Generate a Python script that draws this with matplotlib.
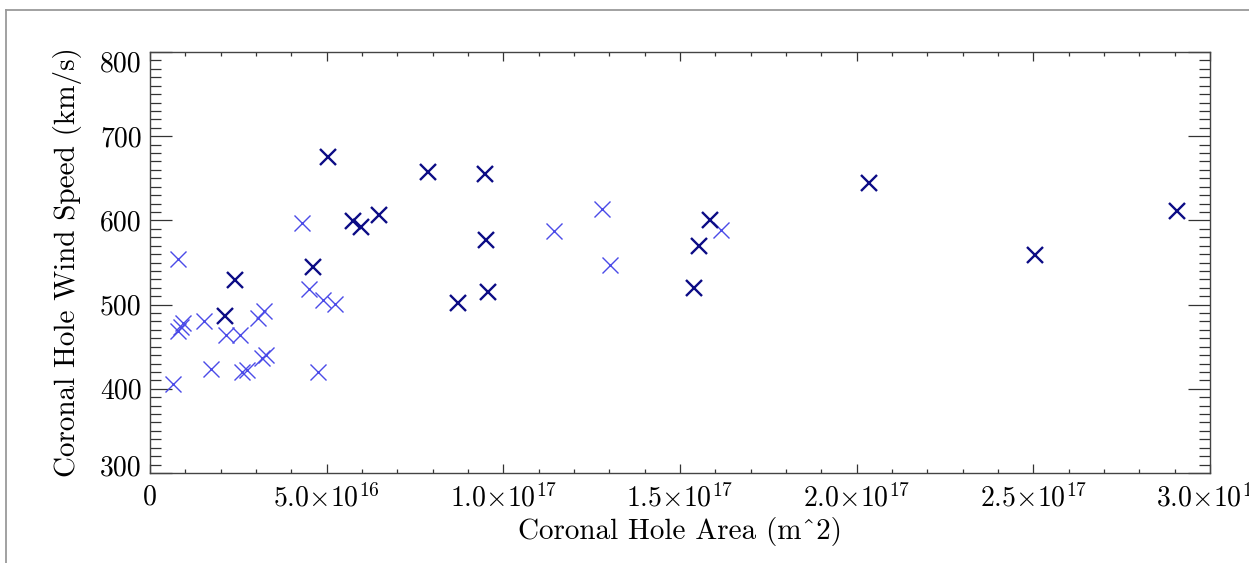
import matplotlib
matplotlib.use("Agg")
import matplotlib.pyplot as plt
from matplotlib.ticker import FixedLocator, MultipleLocator
from matplotlib.transforms import ScaledTranslation
from matplotlib.lines import Line2D

plt.rcParams['font.family'] = ['cmr10', 'DejaVu Serif']
plt.rcParams['mathtext.fontset'] = 'cm'
plt.rcParams['axes.formatter.use_mathtext'] = True

# coronal holes, area in m^2 and wind speed in km/s
area_dark = [2.12e16, 2.41e16, 4.61e16, 5.03e16, 5.75e16, 5.97e16, 6.49e16,
             7.86e16, 8.71e16, 9.47e16, 9.51e16, 9.58e16, 1.539e17, 1.554e17,
             1.585e17, 2.035e17, 2.505e17, 2.907e17]
speed_dark = [486, 529, 545, 675, 599, 592, 606,
              658, 502, 655, 577, 515, 520, 570,
              600, 644, 559, 611]

area_light = [0.66e16, 0.78e16, 0.80e16, 0.87e16, 0.94e16, 1.54e16, 1.73e16,
              2.15e16, 2.55e16, 2.60e16, 2.74e16, 3.07e16, 3.16e16, 3.23e16,
              3.28e16, 4.29e16, 4.51e16, 4.75e16, 4.89e16, 5.24e16,
              1.143e17, 1.278e17, 1.302e17, 1.616e17]
speed_light = [406, 469, 554, 473, 478, 480, 423,
               464, 464, 420, 422, 484, 436, 492,
               440, 597, 518, 420, 505, 501,
               587, 614, 547, 589]

xticks = [0, 5e16, 1e17, 1.5e17, 2e17, 2.5e17, 3e17]
xticklabels = ["0", r"$5.0{\times}10^{16}$", r"$1.0{\times}10^{17}$",
               r"$1.5{\times}10^{17}$", r"$2.0{\times}10^{17}$",
               r"$2.5{\times}10^{17}$", r"$3.0{\times}10^{17}$"]
yticks = [300, 400, 500, 600, 700, 800]

fig = plt.figure(figsize=(12.49, 5.63), dpi=100)
ax = fig.add_axes([150/1249, 1 - 473/563, 1060/1249, 421/563])

ax.plot(area_light, speed_light, ls='none', marker='x', ms=11, mew=1.0,
        color='#4b4be8')
ax.plot(area_dark, speed_dark, ls='none', marker='x', ms=11, mew=1.7,
        color='#0c0c85')

ax.set_xlim(0, 3e17)
ax.set_ylim(300, 800)
ax.xaxis.set_major_locator(FixedLocator(xticks))
ax.set_xticklabels(xticklabels)
ax.xaxis.set_minor_locator(MultipleLocator(1e16))
ax.yaxis.set_major_locator(FixedLocator(yticks))
ax.set_yticklabels([str(v) for v in yticks])
ax.yaxis.set_minor_locator(MultipleLocator(10))

for s in ax.spines.values():
    s.set_color('#444444')
    s.set_linewidth(1.0)

ax.tick_params(which='both', direction='in', top=True, right=True,
               color='#333333', width=0.9, labelsize=20)
ax.tick_params(axis='x', which='major', length=6.2, pad=8)
ax.tick_params(axis='x', which='minor', length=3.0)
ax.tick_params(axis='y', which='major', length=15.5, pad=6)
ax.tick_params(axis='y', which='minor', length=7.7)

ax.set_xlabel("Coronal Hole Area (m^2)", fontsize=21)
ax.set_ylabel("Coronal Hole Wind Speed (km/s)", fontsize=21)
ax.xaxis.set_label_coords(0.5, -0.138)
ax.xaxis.label.set_va('center')
ax.yaxis.set_label_coords(-0.078, 0.5)
ax.yaxis.label.set_va('center')

# IDL nudges the end labels inward
ymaj = ax.yaxis.get_major_ticks()
lo = ymaj[0].label1
lo.set_transform(lo.get_transform() + ScaledTranslation(0, 8/100, fig.dpi_scale_trans))
hi = ymaj[-1].label1
hi.set_transform(hi.get_transform() + ScaledTranslation(0, -9/100, fig.dpi_scale_trans))

# window frame of the screenshot
fx = 5.5/1249
fy = 1 - 10/563
fig.add_artist(Line2D([fx, 1], [fy, fy], transform=fig.transFigure,
                      color='#9a9a9a', lw=1.3))
fig.add_artist(Line2D([fx, fx], [0, fy], transform=fig.transFigure,
                      color='#9a9a9a', lw=1.3))

fig.savefig("out.png", dpi=100)
